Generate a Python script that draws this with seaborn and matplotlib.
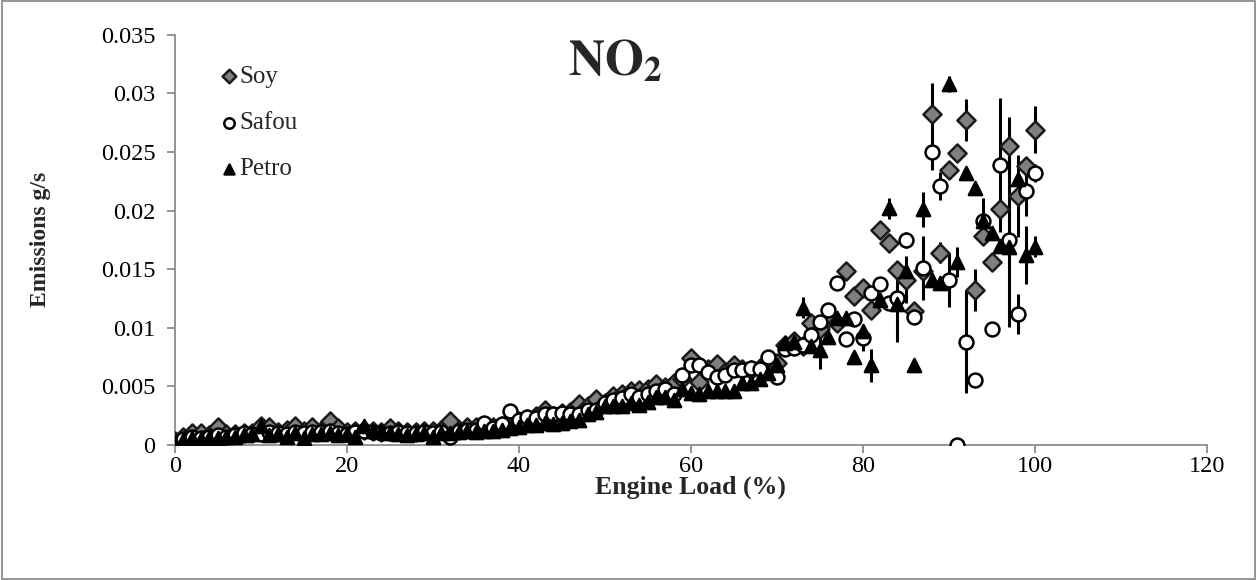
import numpy as np
import pandas as pd
import matplotlib
matplotlib.use("Agg")
import matplotlib.pyplot as plt
from matplotlib.patches import Rectangle
import seaborn as sns

# Engine load steps (%)
load = list(range(0, 101))

soy = [0.0003, 0.0007, 0.0010, 0.0010, 0.0008, 0.0015, 0.0009, 0.0009, 0.0010, 0.0010,
       0.0016, 0.0015, 0.0011, 0.0013, 0.0016, 0.0012, 0.0015, 0.0012, 0.0020, 0.0014,
       0.0011, 0.0012, 0.0013, 0.0012, 0.0011, 0.0014, 0.0012, 0.0011, 0.0011, 0.0012,
       0.0012, 0.0013, 0.0020, 0.0013, 0.0015, 0.0015, 0.0016, 0.0015, 0.0016, 0.0017,
       0.0020, 0.0022, 0.0025, 0.0030, 0.0025, 0.0027, 0.0028, 0.0035, 0.0033, 0.0039,
       0.0036, 0.0042, 0.0043, 0.0046, 0.0047, 0.0048, 0.0052, 0.0049, 0.0053, 0.0056,
       0.0074, 0.0054, 0.0065, 0.0069, 0.0062, 0.0068, 0.0065, 0.0064, 0.0066, 0.0070,
       0.0070, 0.0085, 0.0089, 0.0084, 0.0104, 0.0099, 0.0108, 0.0104, 0.0148, 0.0127,
       0.0134, 0.0115, 0.0183, 0.0172, 0.0149, 0.0141, 0.0114, 0.0148, 0.0282, 0.0164,
       0.0235, 0.0249, 0.0277, 0.0132, 0.0178, 0.0156, 0.0201, 0.0255, 0.0212, 0.0238,
       0.0269]

safou = [0.0002, 0.0005, 0.0007, 0.0006, 0.0007, 0.0008, 0.0007, 0.0008, 0.0010, 0.0009,
         0.0009, 0.0011, 0.0010, 0.0009, 0.0011, 0.0010, 0.0011, 0.0011, 0.0012, 0.0010,
         0.0009, 0.0011, 0.0012, 0.0011, 0.0010, 0.0010, 0.0011, 0.0010, 0.0010, 0.0011,
         0.0010, 0.0011, 0.0007, 0.0012, 0.0013, 0.0013, 0.0019, 0.0014, 0.0018, 0.0029,
         0.0021, 0.0024, 0.0023, 0.0026, 0.0026, 0.0027, 0.0026, 0.0026, 0.0030, 0.0030,
         0.0036, 0.0038, 0.0040, 0.0043, 0.0041, 0.0043, 0.0046, 0.0048, 0.0043, 0.0060,
         0.0068, 0.0068, 0.0062, 0.0058, 0.0060, 0.0064, 0.0064, 0.0066, 0.0065, 0.0075,
         0.0058, 0.0082, 0.0083, 0.0085, 0.0094, 0.0105, 0.0115, 0.0138, 0.0090, 0.0107,
         0.0091, 0.0130, 0.0137, 0.0121, 0.0125, 0.0175, 0.0109, 0.0151, 0.0250, 0.0221,
         0.0141, 0.0000, 0.0088, 0.0055, 0.0191, 0.0099, 0.0239, 0.0175, 0.0112, 0.0217,
         0.0232]

petro = [0.0001, 0.0004, 0.0006, 0.0005, 0.0006, 0.0006, 0.0007, 0.0007, 0.0008, 0.0009,
         0.0016, 0.0008, 0.0009, 0.0007, 0.0010, 0.0006, 0.0009, 0.0009, 0.0010, 0.0008,
         0.0009, 0.0007, 0.0016, 0.0012, 0.0012, 0.0010, 0.0009, 0.0008, 0.0009, 0.0010,
         0.0007, 0.0010, 0.0010, 0.0011, 0.0012, 0.0011, 0.0012, 0.0012, 0.0013, 0.0014,
         0.0015, 0.0017, 0.0017, 0.0019, 0.0018, 0.0019, 0.0020, 0.0021, 0.0026, 0.0028,
         0.0033, 0.0033, 0.0033, 0.0036, 0.0034, 0.0037, 0.0041, 0.0041, 0.0038, 0.0048,
         0.0044, 0.0043, 0.0046, 0.0046, 0.0046, 0.0046, 0.0053, 0.0053, 0.0056, 0.0061,
         0.0068, 0.0087, 0.0088, 0.0117, 0.0084, 0.0081, 0.0092, 0.0108, 0.0108, 0.0075,
         0.0097, 0.0068, 0.0124, 0.0202, 0.0120, 0.0148, 0.0068, 0.0201, 0.0141, 0.0138,
         0.0308, 0.0156, 0.0232, 0.0219, 0.0191, 0.0181, 0.0170, 0.0169, 0.0227, 0.0162,
         0.0169]

# Standard deviations at the loads where they were recorded
soy_err_load = [85, 88, 89, 92, 93, 97, 98, 100]
soy_err = [0.0020, 0.0027, 0.0009, 0.0018, 0.0018, 0.0025, 0.0035, 0.0020]
safou_err_load = [80, 82, 85, 87, 88, 89, 90, 92, 96, 97, 98, 99, 100]
safou_err = [0.0011, 0.0005, 0.0007, 0.0027, 0.0015, 0.0012, 0.0023, 0.0044,
             0.0057, 0.0074, 0.0017, 0.0022, 0.0008]
petro_err_load = [73, 75, 81, 83, 84, 87, 90, 91, 94, 99, 100]
petro_err = [0.0009, 0.0016, 0.0014, 0.0009, 0.0032, 0.0015, 0.0007, 0.0013,
             0.0020, 0.0025, 0.0009]

fuels = ["Soy", "Safou", "Petro"]
x_ticks = [0, 20, 40, 60, 80, 100, 120]
y_ticks = [0, 0.005, 0.01, 0.015, 0.02, 0.025, 0.03, 0.035]
y_tick_labels = ["0", "0.005", "0.01", "0.015", "0.02", "0.025", "0.03", "0.035"]

sns.set_theme(style="white")
plt.rcParams["font.family"] = ["Liberation Serif", "DejaVu Serif"]

df = pd.DataFrame({
    "Engine Load (%)": load * 3,
    "Emissions g/s": soy + safou + petro,
    "Fuel": ["Soy"] * len(load) + ["Safou"] * len(load) + ["Petro"] * len(load),
})

fig = plt.figure(figsize=(12.57, 5.80), dpi=100)
ax = fig.add_axes([0.139, 0.233, 0.821, 0.707])

# Error bars beneath the markers
series = {"Soy": (soy, soy_err_load, soy_err),
          "Safou": (safou, safou_err_load, safou_err),
          "Petro": (petro, petro_err_load, petro_err)}
for name, (vals, eload, err) in series.items():
    ey = [vals[load.index(l)] for l in eload]
    ax.errorbar(eload, ey, yerr=err, fmt="none", ecolor="black",
                elinewidth=2.2, capsize=0, zorder=2)

styles = {
    "Soy": dict(marker="D", facecolor="#7f7f7f", edgecolor="#1a1a1a", s=85),
    "Safou": dict(marker="o", facecolor="white", edgecolor="black", s=100),
    "Petro": dict(marker="^", facecolor="black", edgecolor="black", s=90),
}
for name in fuels:
    st = styles[name]
    sns.scatterplot(data=df[df["Fuel"] == name], x="Engine Load (%)", y="Emissions g/s",
                    marker=st["marker"], color=st["facecolor"], edgecolor=st["edgecolor"],
                    linewidth=1.8, s=st["s"], ax=ax, zorder=3, label=name)

ax.set_xlim(0, 120)
ax.set_ylim(0, 0.035)
ax.set_xticks(x_ticks)
ax.set_xticklabels([str(t) for t in x_ticks])
ax.set_yticks(y_ticks)
ax.set_yticklabels(y_tick_labels)

for side in ["top", "right"]:
    ax.spines[side].set_visible(False)
for side in ["left", "bottom"]:
    ax.spines[side].set_color("#8c8c8c")
    ax.spines[side].set_linewidth(1.3)
ax.tick_params(axis="both", direction="out", length=6, width=1.3, color="#8c8c8c",
               labelsize=17.5, labelcolor="black", left=True, bottom=True)
ax.tick_params(axis="x", pad=2)
ax.tick_params(axis="y", pad=8)

ax.set_xlabel("Engine Load (%)", fontsize=18.5, fontweight="bold", labelpad=-1)
ax.set_ylabel("Emissions g/s", fontsize=17, fontweight="bold", labelpad=36)
ax.text(0.427, 0.99, r"$\mathbf{NO_2}$", transform=ax.transAxes, fontsize=36,
        ha="center", va="top", math_fontfamily="stix")

leg = ax.legend(loc="upper left", bbox_to_anchor=(0.024, 0.968), frameon=False,
                fontsize=18, handletextpad=-0.1, labelspacing=0.95, borderpad=0.2,
                markerscale=0.75, handlelength=1.0)

fig.patches.append(Rectangle((0.0015, 0.002), 0.997, 0.996, transform=fig.transFigure,
                             fill=False, edgecolor="#8c8c8c", linewidth=1.3))

fig.savefig("out.png", dpi=100, facecolor="white")
